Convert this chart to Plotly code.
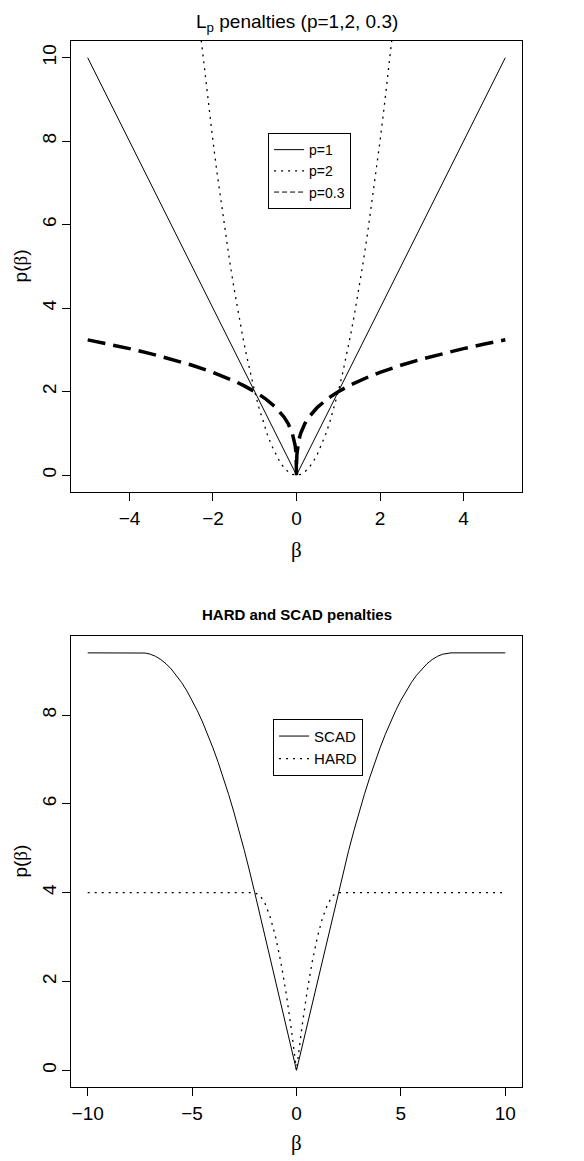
import plotly.graph_objects as go

# ---------------- data: top panel (L_p penalties, lambda = 2) ----------------
beta_p1 = [-5, 0, 5]
pen_p1 = [10, 0, 10]

beta_p2 = [-2.3, -2.2, -2.1, -2.0, -1.9, -1.8, -1.7, -1.6, -1.5, -1.4, -1.3, -1.2,
           -1.1, -1.0, -0.9, -0.8, -0.7, -0.6, -0.5, -0.4, -0.3, -0.2, -0.1, 0.0,
           0.1, 0.2, 0.3, 0.4, 0.5, 0.6, 0.7, 0.8, 0.9, 1.0, 1.1, 1.2,
           1.3, 1.4, 1.5, 1.6, 1.7, 1.8, 1.9, 2.0, 2.1, 2.2, 2.3]
pen_p2 = [10.58, 9.68, 8.82, 8.0, 7.22, 6.48, 5.78, 5.12, 4.5, 3.92, 3.38, 2.88,
          2.42, 2.0, 1.62, 1.28, 0.98, 0.72, 0.5, 0.32, 0.18, 0.08, 0.02, 0.0,
          0.02, 0.08, 0.18, 0.32, 0.5, 0.72, 0.98, 1.28, 1.62, 2.0, 2.42, 2.88,
          3.38, 3.92, 4.5, 5.12, 5.78, 6.48, 7.22, 8.0, 8.82, 9.68, 10.58]

beta_p03 = [-5, -4.5, -4, -3.5, -3, -2.5, -2, -1.75, -1.5, -1.25, -1, -0.75, -0.5,
            -0.3, -0.2, -0.1, -0.05, -0.03, -0.01, -0.001, 0,
            0.001, 0.01, 0.03, 0.05, 0.1, 0.2, 0.3, 0.5, 0.75, 1, 1.25, 1.5,
            1.75, 2, 2.5, 3, 3.5, 4, 4.5, 5]
pen_p03 = [3.241, 3.140, 3.031, 2.912, 2.781, 2.633, 2.462, 2.366, 2.259, 2.138, 2.0,
           1.835, 1.625, 1.394, 1.234, 1.002, 0.814, 0.699, 0.502, 0.252, 0.0,
           0.252, 0.502, 0.699, 0.814, 1.002, 1.234, 1.394, 1.625, 1.835, 2.0,
           2.138, 2.259, 2.366, 2.462, 2.633, 2.781, 2.912, 3.031, 3.140, 3.241]

# ---------------- data: bottom panel (HARD and SCAD, lambda = 2, a = 3.7) ----
beta_scad = [-10, -7.4, -7.25, -7, -6.75, -6.5, -6.25, -6, -5.75, -5.5, -5.25, -5,
             -4.75, -4.5, -4.25, -4, -3.75, -3.5, -3.25, -3, -2.75, -2.5, -2.25, -2,
             0,
             2, 2.25, 2.5, 2.75, 3, 3.25, 3.5, 3.75, 4, 4.25, 4.5, 4.75, 5,
             5.25, 5.5, 5.75, 6, 6.25, 6.5, 6.75, 7, 7.25, 7.4, 10]
pen_scad = [9.4, 9.4, 9.396, 9.370, 9.322, 9.250, 9.155, 9.037, 8.896, 8.731, 8.544,
            8.333, 8.099, 7.843, 7.562, 7.259, 6.933, 6.583, 6.211, 5.815, 5.396,
            4.954, 4.488, 4.0,
            0.0,
            4.0, 4.488, 4.954, 5.396, 5.815, 6.211, 6.583, 6.933, 7.259, 7.562,
            7.843, 8.099, 8.333, 8.544, 8.731, 8.896, 9.037, 9.155, 9.250, 9.322,
            9.370, 9.396, 9.4, 9.4]

beta_hard = [-10, -2, -1.75, -1.5, -1.25, -1, -0.75, -0.5, -0.25, 0,
             0.25, 0.5, 0.75, 1, 1.25, 1.5, 1.75, 2, 10]
pen_hard = [4, 4, 3.9375, 3.75, 3.4375, 3, 2.4375, 1.75, 0.9375, 0,
            0.9375, 1.75, 2.4375, 3, 3.4375, 3.75, 3.9375, 4, 4]

top_xticks = [-4, -2, 0, 2, 4]
top_yticks = [0, 2, 4, 6, 8, 10]
bot_xticks = [-10, -5, 0, 5, 10]
bot_yticks = [0, 2, 4, 6, 8]

SANS = "Liberation Sans, Arial, Helvetica, sans-serif"
SERIF = "Liberation Serif, Times New Roman, serif"
DOT = "2px,5px"
DASH = "18px,8px"

fig = go.Figure()

fig.add_trace(go.Scatter(x=beta_p1, y=pen_p1, mode="lines", name="p=1",
                         line=dict(color="black", width=1), xaxis="x", yaxis="y",
                         legend="legend"))
fig.add_trace(go.Scatter(x=beta_p2, y=pen_p2, mode="lines", name="p=2",
                         line=dict(color="black", width=1.3, dash=DOT), xaxis="x", yaxis="y",
                         legend="legend"))
fig.add_trace(go.Scatter(x=beta_p03, y=pen_p03, mode="lines", name="p=0.3",
                         line=dict(color="black", width=3.5, dash=DASH), xaxis="x", yaxis="y",
                         showlegend=False))
# legend entry only (thin dashed sample, as in the reference legend)
fig.add_trace(go.Scatter(x=[None], y=[None], mode="lines", name="p=0.3",
                         line=dict(color="black", width=1, dash="5px,3px"),
                         xaxis="x", yaxis="y", legend="legend", hoverinfo="skip"))

fig.add_trace(go.Scatter(x=beta_scad, y=pen_scad, mode="lines", name="SCAD",
                         line=dict(color="black", width=1), xaxis="x2", yaxis="y2",
                         legend="legend2"))
fig.add_trace(go.Scatter(x=beta_hard, y=pen_hard, mode="lines", name="HARD",
                         line=dict(color="black", width=1.3, dash=DOT), xaxis="x2", yaxis="y2",
                         legend="legend2"))

axis_common = dict(showline=True, linecolor="black", linewidth=1, mirror=True,
                   ticks="outside", ticklen=8, tickwidth=1, tickcolor="black",
                   showgrid=False, zeroline=False,
                   tickfont=dict(family=SANS, size=19, color="black"))

fig.update_layout(
    width=584, height=1161,
    margin=dict(l=71, r=62, t=41, b=74),
    paper_bgcolor="white", plot_bgcolor="white",
    showlegend=True,
    xaxis=dict(domain=[0, 1], range=[-5.4, 5.4], tickvals=top_xticks,
               anchor="y", ticklabelstandoff=1, **axis_common),
    yaxis=dict(domain=[0.569, 1], range=[-0.4, 10.4], tickvals=top_yticks,
               anchor="x", tickangle=-90, ticklabelstandoff=-2, **axis_common),
    xaxis2=dict(domain=[0, 1], range=[-10.8, 10.8], tickvals=bot_xticks,
                anchor="y2", ticklabelstandoff=1, **axis_common),
    yaxis2=dict(domain=[0, 0.431], range=[-0.376, 9.776], tickvals=bot_yticks,
                anchor="x2", tickangle=-90, ticklabelstandoff=-2, **axis_common),
    legend=dict(x=0.437, y=0.912, xanchor="left", yanchor="top",
                bordercolor="black", borderwidth=1, bgcolor="white",
                font=dict(family=SANS, size=14, color="black"),
                tracegroupgap=0, itemwidth=30),
    legend2=dict(x=0.448, y=0.352, xanchor="left", yanchor="top",
                 bordercolor="black", borderwidth=1, bgcolor="white",
                 font=dict(family=SANS, size=15, color="black"),
                 tracegroupgap=0, itemwidth=30),
    annotations=[
        dict(text="L<sub>p</sub> penalties (p=1,2, 0.3)", x=0.5, y=1.0175,
             xref="paper", yref="paper", xanchor="center", yanchor="middle",
             showarrow=False, font=dict(family=SANS, size=19, color="black")),
        dict(text="<b>HARD and SCAD penalties</b>", x=0.5, y=0.4516,
             xref="paper", yref="paper", xanchor="center", yanchor="middle",
             showarrow=False, font=dict(family=SANS, size=15, color="black")),
        dict(text="β", x=0.5, y=0.5133, xref="paper", yref="paper",
             xanchor="center", yanchor="middle", showarrow=False,
             font=dict(family=SERIF, size=21, color="black")),
        dict(text="β", x=0.5, y=-0.0538, xref="paper", yref="paper",
             xanchor="center", yanchor="middle", showarrow=False,
             font=dict(family=SERIF, size=21, color="black")),
        dict(text='p(<span style="font-family:Liberation Serif">β</span>)',
             x=-0.112, y=0.785, xref="paper", yref="paper", textangle=-90,
             xanchor="center", yanchor="middle", showarrow=False,
             font=dict(family=SANS, size=19, color="black")),
        dict(text='p(<span style="font-family:Liberation Serif">β</span>)',
             x=-0.112, y=0.216, xref="paper", yref="paper", textangle=-90,
             xanchor="center", yanchor="middle", showarrow=False,
             font=dict(family=SANS, size=19, color="black")),
    ],
)

fig.write_html("out.html")
